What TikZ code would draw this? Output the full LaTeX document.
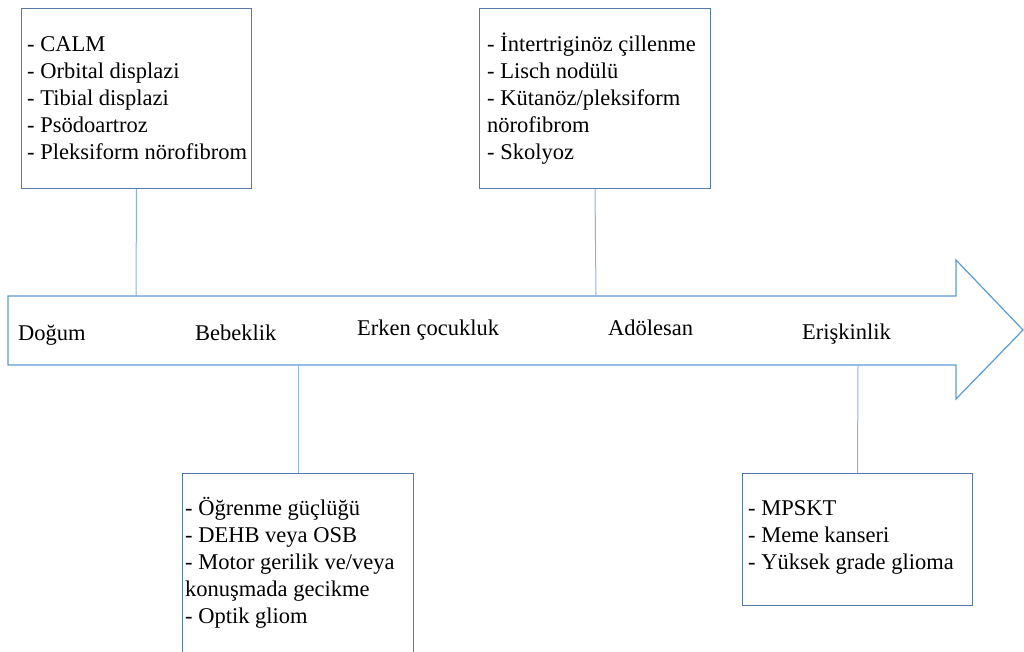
\documentclass[tikz,border=0pt]{standalone}
\usepackage{fontspec}
\setmainfont{Liberation Serif}
\definecolor{arrowblue}{RGB}{91,155,213}
\definecolor{boxblue}{RGB}{84,122,170}
\definecolor{linkblue}{RGB}{140,178,222}
\begin{document}
\begin{tikzpicture}[x=1pt,y=-1pt,
  box/.style={draw=boxblue,line width=1pt,fill=white,anchor=north west,inner sep=0pt},
  items/.style={anchor=base west,align=left,inner sep=0pt,font=\fontsize{22.5}{27}\selectfont},
  stage/.style={anchor=base west,inner sep=0pt,font=\fontsize{22.5}{27}\selectfont},
  link/.style={draw=linkblue,line width=1pt}]
\useasboundingbox (0,0) rectangle (1024,652);
% timeline arrow
\draw[arrowblue,line width=1.2pt,fill=white]
  (8,296) -- (956,296) -- (956,260) -- (1023,330) -- (956,399) -- (956,365) -- (8,365) -- cycle;
\coordinate (a1) at (136,296);
\coordinate (a2) at (596,296);
\coordinate (a3) at (298,365);
\coordinate (a4) at (858,365);
% stage labels
\node[stage] (dogum) at (18,340) {Doğum};
\node[stage] (bebek) at (195,340) {Bebeklik};
\node[stage] (erken) at (357,335) {Erken çocukluk};
\node[stage] (adol) at (608,335) {Adölesan};
\node[stage] (eris) at (802,339) {Erişkinlik};
% boxes
\node[box,minimum width=230pt,minimum height=180pt] (b1) at (21,8) {};
\node[box,minimum width=231pt,minimum height=180pt] (b2) at (479,8) {};
\node[box,minimum width=231pt,minimum height=200pt] (b3) at (182,473) {};
\node[box,minimum width=230pt,minimum height=132pt] (b4) at (742,473) {};
% connectors
\draw[link] (b1.south) -- (a1);
\draw[link] (b2.south) -- (a2);
\draw[link] (b3.north) -- (a3);
\draw[link] (b4.north) -- (a4);
% box texts (anchor = baseline of last line)
\node[items] (t1) at (27,160) {- CALM\\- Orbital displazi\\- Tibial displazi\\- Psödoartroz\\- Pleksiform nörofibrom};
\node[items] (t2) at (487,160) {- İntertriginöz çillenme\\- Lisch nodülü\\- Kütanöz/pleksiform\\nörofibrom\\- Skolyoz};
\node[items] (t3) at (185,623) {- Öğrenme güçlüğü\\- DEHB veya OSB\\- Motor gerilik ve/veya\\konuşmada gecikme\\- Optik gliom};
\node[items] (t4) at (748,569) {- MPSKT\\- Meme kanseri\\- Yüksek grade glioma};
\end{tikzpicture}
\end{document}
